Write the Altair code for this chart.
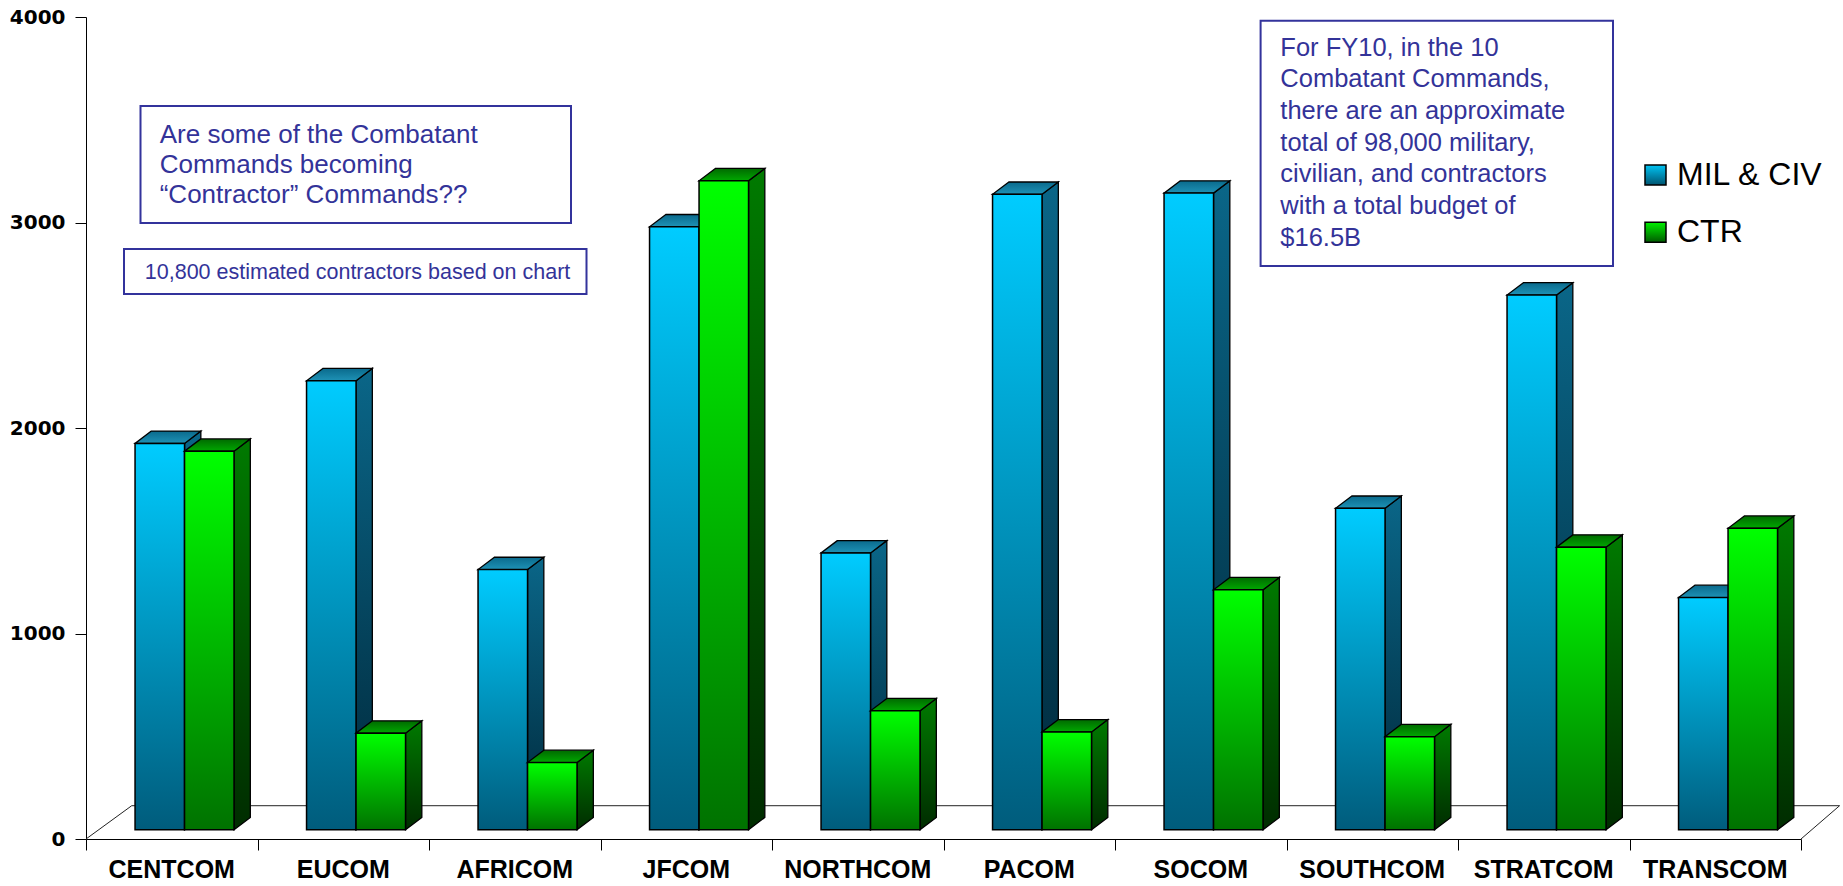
import altair as alt
import pandas as pd

# ---------------- data ----------------
categories = ["CENTCOM", "EUCOM", "AFRICOM", "JFCOM", "NORTHCOM",
              "PACOM", "SOCOM", "SOUTHCOM", "STRATCOM", "TRANSCOM"]
mil_civ = [1880, 2185, 1266, 2934, 1347, 3092, 3098, 1564, 2602, 1130]
ctr = [1842, 470, 327, 3158, 579, 476, 1168, 453, 1375, 1467]
series_names = ["MIL & CIV", "CTR"]
y_ticks = [0, 1000, 2000, 3000, 4000]

note_question = ["Are some of the Combatant", "Commands becoming",
                 "\u201cContractor\u201d Commands??"]
note_estimate = "10,800 estimated contractors based on chart"
note_fy = ["For FY10, in the 10", "Combatant Commands,", "there are an approximate",
           "total of 98,000 military,", "civilian, and contractors",
           "with a total budget of", "$16.5B"]

# ---------------- 3-D style geometry (data units) ----------------
BAR_W = 0.2886
FRONT_DX, FRONT_DY = 0.0746, 45
BAR_DX, BAR_DY = 0.095, 60
FLOOR_DX, FLOOR_DY = 0.2665, 162
RIGHT_DX = 0.225
N = len(categories)

XS = alt.Scale(domain=[0, N], nice=False, zero=False)
YS = alt.Scale(domain=[0, 4000], nice=False, zero=False)
X_AX = alt.Axis(values=list(range(N + 1)), labels=False, ticks=True, title=None,
                tickSize=11, tickColor="black", domainColor="black",
                grid=False, domainWidth=1, tickWidth=1)
Y_AX = alt.Axis(values=y_ticks, format="d", labelFont="DejaVu Sans", title=None,
                labelFontWeight="bold", labelFontSize=20, labelColor="black",
                labelPadding=10, tickSize=11, tickColor="black",
                domainColor="black", grid=False, domainWidth=1, tickWidth=1)


def X(field):
    return alt.X(field, scale=XS, axis=X_AX, title=None)


def Y(field):
    return alt.Y(field, scale=YS, axis=Y_AX, title=None)


def grad(top, bottom):
    return alt.Gradient(gradient="linear",
                        stops=[alt.GradientStop(color=top, offset=0),
                               alt.GradientStop(color=bottom, offset=1)],
                        x1=0, x2=0, y1=0, y2=1)


styles = {
    "MIL & CIV": dict(front=grad("#00CCFF", "#005C7C"),
                      side=grad("#0A6688", "#00283A"),
                      top=grad("#0A6A8C", "#1E92B6")),
    "CTR": dict(front=grad("#00FF00", "#007200"),
                side=grad("#007A00", "#002C00"),
                top=grad("#006A00", "#00A800")),
}

layers = []

# floor
floor = pd.DataFrame([
    dict(x=0, y=0, x2=FLOOR_DX, y2=FLOOR_DY),
    dict(x=FLOOR_DX, y=FLOOR_DY, x2=N + RIGHT_DX, y2=FLOOR_DY),
    dict(x=N, y=0, x2=N + RIGHT_DX, y2=FLOOR_DY),
])
layers.append(
    alt.Chart(floor).mark_rule(color="#222222", strokeWidth=1).encode(
        x=X("x:Q"), y=Y("y:Q"), x2="x2:Q", y2="y2:Q",
    )
)

for s, (name, vals) in enumerate(zip(series_names, [mil_civ, ctr])):
    front_rows, side_rows, top_rows = [], [], []
    for i, cat in enumerate(categories):
        v = vals[i]
        x1 = i + 0.5 + FRONT_DX + (s - 1) * BAR_W
        x2 = x1 + BAR_W
        y1, y2 = FRONT_DY, FRONT_DY + v
        key = f"{cat}-{name}"
        front_rows.append(dict(cat=cat, x1=x1, x2=x2, y1=y1, y2=y2))
        side_rows += [dict(key=key, x=x2, yb=y1, yt=y2),
                      dict(key=key, x=x2 + BAR_DX, yb=y1 + BAR_DY, yt=y2 + BAR_DY)]
        top_rows += [dict(key=key, y=y2, xl=x1, xr=x2),
                     dict(key=key, y=y2 + BAR_DY, xl=x1 + BAR_DX, xr=x2 + BAR_DX)]
    st = styles[name]
    layers.append(
        alt.Chart(pd.DataFrame(side_rows)).mark_area(
            orient="vertical", color=st["side"], stroke="black", strokeWidth=1.3
        ).encode(x=X("x:Q"), y=Y("yb:Q"), y2="yt:Q", detail="key:N")
    )
    layers.append(
        alt.Chart(pd.DataFrame(top_rows)).mark_area(
            orient="horizontal", color=st["top"], stroke="black", strokeWidth=1.3
        ).encode(y=Y("y:Q"), x=X("xl:Q"), x2="xr:Q", detail="key:N")
    )
    layers.append(
        alt.Chart(pd.DataFrame(front_rows)).mark_rect(
            color=st["front"], stroke="black", strokeWidth=1.5
        ).encode(x=X("x1:Q"), x2="x2:Q", y=Y("y1:Q"), y2="y2:Q")
    )

# category labels
cat_df = pd.DataFrame({"cat": categories, "pos": [i + 0.5 for i in range(N)]})
layers.append(
    alt.Chart(cat_df).mark_text(font="Liberation Sans", fontWeight="bold", fontSize=25,
                                color="black", baseline="alphabetic", align="center").encode(
        x=X("pos:Q"), y=alt.value(861), text="cat:N")
)

one = alt.Data(values=[{"k": 0}])
BOX = "#33339C"
TXT = "#333399"

# question box
layers.append(alt.Chart(one).mark_rect(fill="white", stroke=BOX, strokeWidth=2).encode(
    x=alt.value(54.5), x2=alt.value(485), y=alt.value(89), y2=alt.value(206)))
layers.append(alt.Chart(one).mark_text(
    text=note_question, font="Liberation Sans", fontSize=26, color=TXT,
    align="left", baseline="alphabetic", lineHeight=30).encode(
    x=alt.value(73.7), y=alt.value(126)))

# estimate box
layers.append(alt.Chart(one).mark_rect(fill="white", stroke=BOX, strokeWidth=2).encode(
    x=alt.value(38), x2=alt.value(500.5), y=alt.value(232), y2=alt.value(277)))
layers.append(alt.Chart(one).mark_text(
    text=note_estimate, font="Liberation Sans", fontSize=21.5, color=TXT,
    align="left", baseline="alphabetic").encode(
    x=alt.value(58.8), y=alt.value(262)))

# FY10 box
layers.append(alt.Chart(one).mark_rect(fill="white", stroke=BOX, strokeWidth=2).encode(
    x=alt.value(1174.6), x2=alt.value(1527), y=alt.value(3.7), y2=alt.value(249)))
layers.append(alt.Chart(one).mark_text(
    text=note_fy, font="Liberation Sans", fontSize=25.5, color=TXT,
    align="left", baseline="alphabetic", lineHeight=31.7).encode(
    x=alt.value(1194.3), y=alt.value(38.7)))

# legend
legend_fill = [grad("#00C4F4", "#005470"), grad("#00F000", "#005A00")]
legend_y = [148, 205.3]
for name, fill, ly in zip(series_names, legend_fill, legend_y):
    layers.append(alt.Chart(one).mark_rect(color=fill, stroke="black", strokeWidth=1.5).encode(
        x=alt.value(1559), x2=alt.value(1580), y=alt.value(ly), y2=alt.value(ly + 20)))
    layers.append(alt.Chart(one).mark_text(
        text=name, font="Liberation Sans", fontSize=32, color="black",
        align="left", baseline="alphabetic").encode(
        x=alt.value(1591), y=alt.value(ly + 20)))

chart = alt.layer(*layers).properties(
    width=1715, height=822,
    autosize=alt.AutoSizeParams(type="none"),
    padding={"left": 86, "top": 17, "right": 42, "bottom": 47},
    background="white",
).configure_view(stroke=None)

chart.save("out.html", embed_options={"renderer": "svg", "actions": False})
